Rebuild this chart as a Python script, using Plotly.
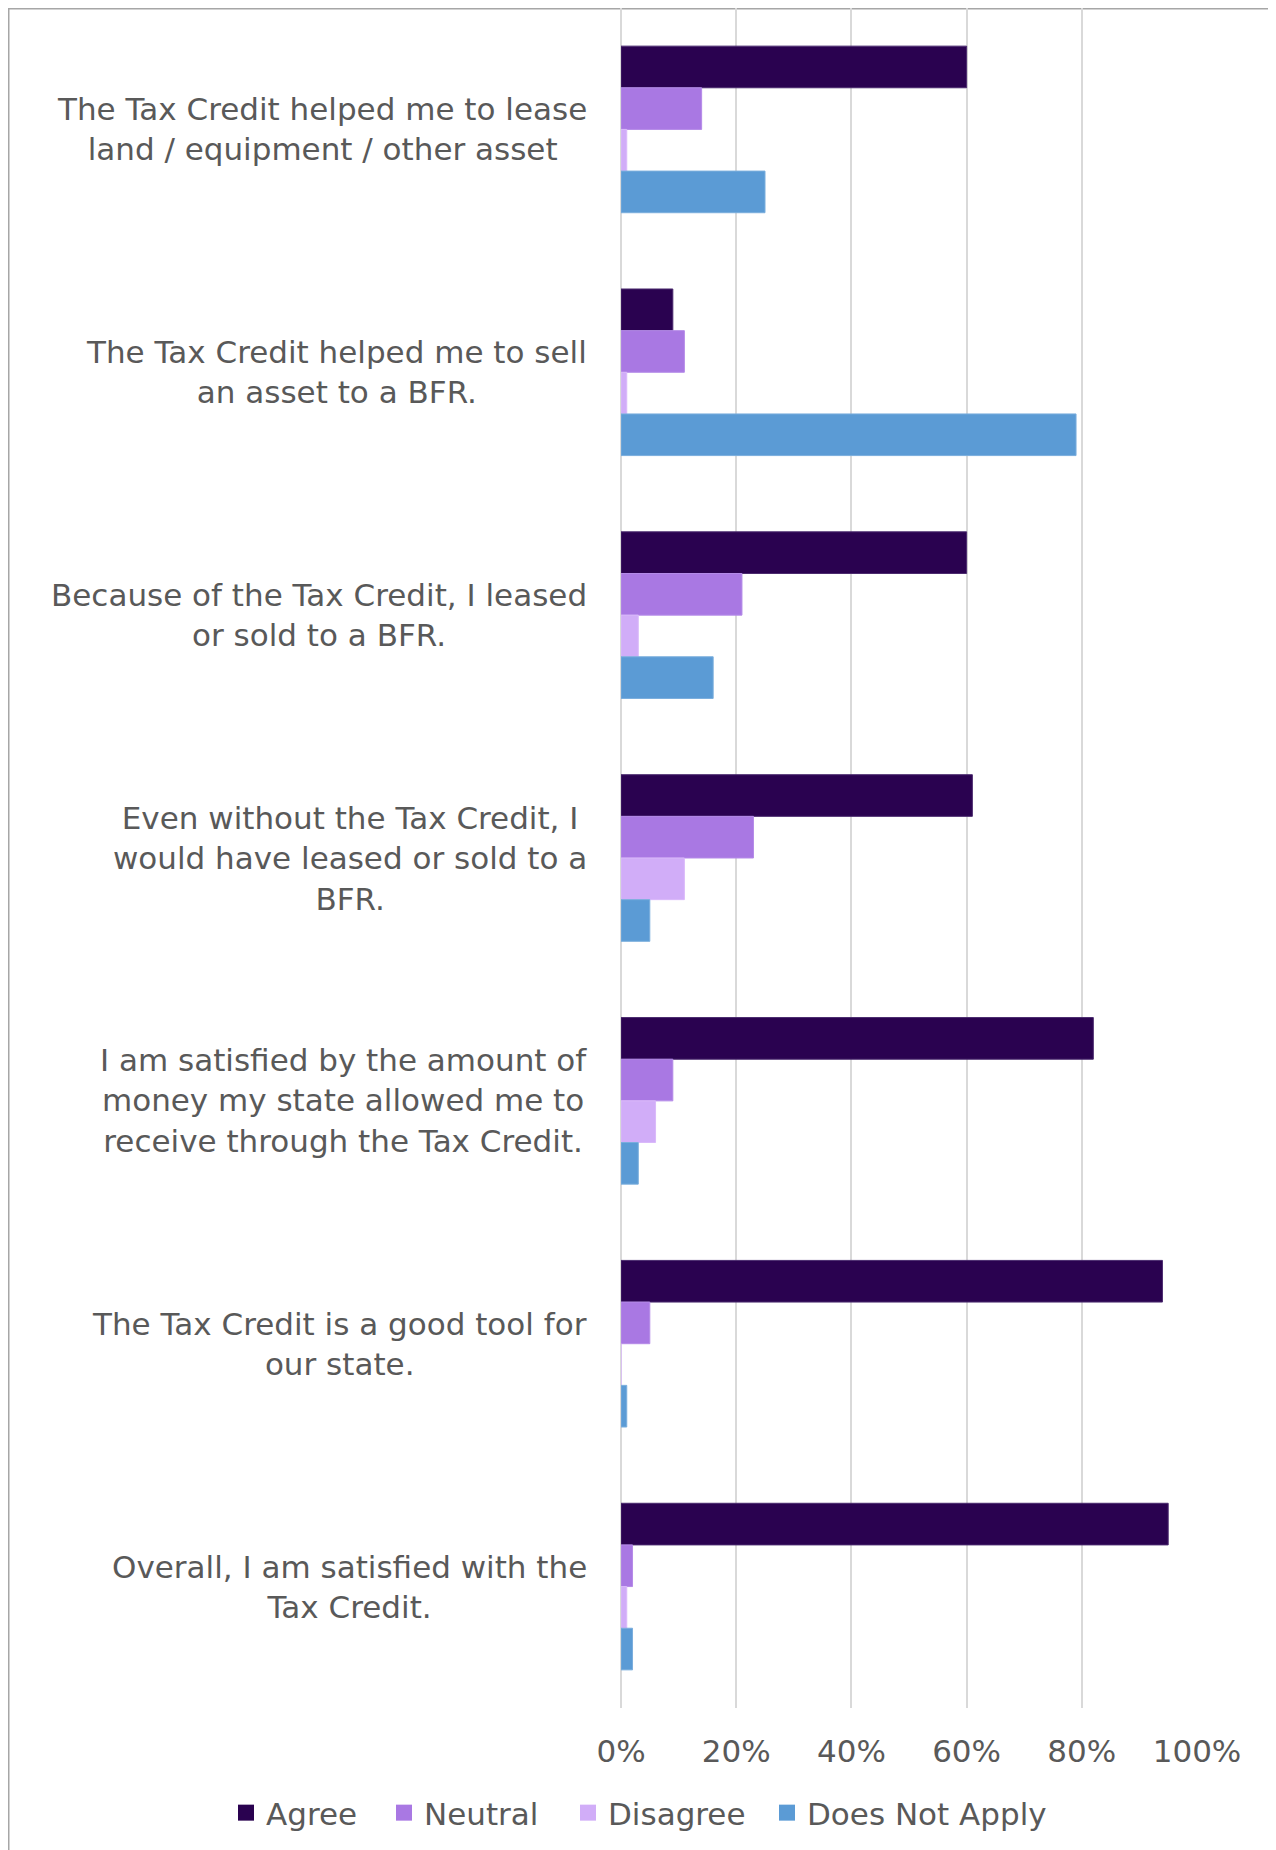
import plotly.graph_objects as go

categories = [
    "The Tax Credit helped me to lease<br>land / equipment / other asset",
    "The Tax Credit helped me to sell<br>an asset to a BFR.",
    "Because of the Tax Credit, I leased<br>or sold to a BFR.",
    "Even without the Tax Credit, I<br>would have leased or sold to a<br>BFR.",
    "I am satisfied by the amount of<br>money my state allowed me to<br>receive through the Tax Credit.",
    "The Tax Credit is a good tool for<br>our state.",
    "Overall, I am satisfied with the<br>Tax Credit.",
]
agree = [60, 9, 60, 61, 82, 94, 95]
neutral = [14, 11, 21, 23, 9, 5, 2]
disagree = [1, 1, 3, 11, 6, 0, 1]
does_not_apply = [25, 79, 16, 5, 3, 1, 2]

series_names = ["Agree", "Neutral", "Disagree", "Does Not Apply"]
series_values = [agree, neutral, disagree, does_not_apply]
colors = ["#2A0250", "#A978E3", "#D1ADF8", "#5B9BD5"]
line_colors = ["#4A2A6E", "#B58BE8", "#DAB9FA", "#7AAEDD"]
x_tick_vals = [0, 20, 40, 60, 80, 100]
x_tick_text = ["0%", "20%", "40%", "60%", "80%", "100%"]

# figure is placed at (8,8) in the page by the default body margin
W, H = 1266, 1850
ML, MR, MT, MB = 613, 77, 0, 150
PW = W - ML - MR
PH = H - MT - MB
FONT = "DejaVu Sans, Verdana, sans-serif"
TXT = "#595959"
FS = 31
legend_left_px = [218, 376, 560, 759]
legend_ids = ["legend", "legend2", "legend3", "legend4"]

def px_x(p):
    return (p - ML) / PW

def px_y(p):
    return (H - MB - p) / PH

fig = go.Figure()
ids = list(range(len(categories)))
for name, vals, c, lc in zip(series_names, series_values, colors, line_colors):
    fig.add_trace(go.Bar(
        y=ids, x=vals, name=name, orientation="h", showlegend=False,
        legendgroup=name,
        marker=dict(color=c, line=dict(color=lc, width=1)),
    ))
# legend entries (square swatches like the original)
for name, c, lg in zip(series_names, colors, legend_ids):
    fig.add_trace(go.Scatter(
        x=[None], y=[None], mode="markers", name=name, legendgroup=name,
        legend=lg, marker=dict(symbol="square", size=17, color=c),
        showlegend=True,
    ))

for i, lab in enumerate(categories):
    fig.add_annotation(
        x=px_x(581), xref="paper", y=i, yref="y",
        text=lab, showarrow=False, xanchor="right", yanchor="middle",
        align="center", font=dict(family=FONT, size=FS, color=TXT),
    )

fig.add_shape(type="rect", xref="paper", yref="paper",
              x0=px_x(0.75), x1=px_x(W - 0.75), y0=px_y(H + 20), y1=px_y(0.75),
              line=dict(color="#A6A6A6", width=1.5), fillcolor="rgba(0,0,0,0)",
              layer="below")

legends = {}
for lg, lx in zip(legend_ids, legend_left_px):
    legends[lg] = dict(orientation="h", x=px_x(lx), xanchor="left",
                       y=px_y(1805), yanchor="middle",
                       font=dict(family=FONT, size=FS, color=TXT),
                       itemwidth=30, bgcolor="rgba(0,0,0,0)")

fig.update_layout(
    width=W, height=H,
    margin=dict(l=ML, r=MR, t=MT, b=MB, autoexpand=False),
    barmode="group", bargap=0.314, bargroupgap=0,
    plot_bgcolor="white", paper_bgcolor="white",
    font=dict(family=FONT, size=FS, color=TXT),
    showlegend=True,
    xaxis=dict(range=[0, 100], tickmode="array", tickvals=x_tick_vals,
               ticktext=x_tick_text,
               showgrid=True, gridcolor="#D9D9D9", gridwidth=1.5,
               zeroline=True, zerolinecolor="#D9D9D9", zerolinewidth=1.5,
               showline=False, ticks="", ticklabelstandoff=22,
               tickfont=dict(family=FONT, size=FS, color=TXT)),
    yaxis=dict(tickvals=ids, showticklabels=False, autorange="reversed",
               showgrid=False, zeroline=False, showline=False, ticks=""),
    **legends,
)

fig.write_html("out.html")
